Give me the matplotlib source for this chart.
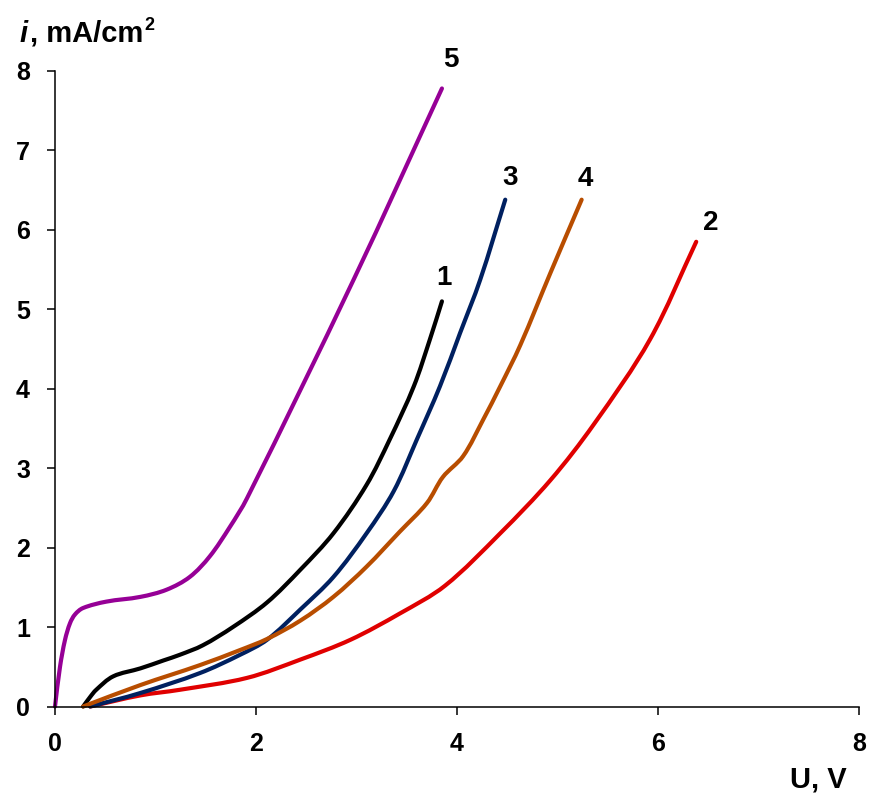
import numpy as np
import matplotlib
matplotlib.use('Agg')
import matplotlib.pyplot as plt
from matplotlib.path import Path
from matplotlib.patches import PathPatch

plt.rcParams['font.family'] = ['Liberation Sans', 'DejaVu Sans']

# curve 1 (black)
u1 = [0.28, 0.35, 0.41, 0.58, 0.85, 1.08, 1.24, 1.47, 1.77, 2.11, 2.44, 2.77, 3.10, 3.33, 3.57, 3.73, 3.85]
i1 = [0.00, 0.12, 0.21, 0.38, 0.48, 0.58, 0.65, 0.77, 1.00, 1.31, 1.72, 2.18, 2.79, 3.36, 4.03, 4.62, 5.10]

# curve 2 (red)
u2 = [0.35, 0.85, 1.24, 1.91, 2.44, 2.94, 3.43, 3.88, 4.43, 4.93, 5.36, 5.92, 6.38]
i2 = [0.00, 0.14, 0.21, 0.36, 0.59, 0.84, 1.17, 1.52, 2.18, 2.85, 3.55, 4.62, 5.85]

# curve 3 (navy)
u3 = [0.35, 0.85, 1.44, 1.84, 2.11, 2.44, 2.77, 3.10, 3.37, 3.60, 3.83, 4.03, 4.23, 4.48]
i3 = [0.00, 0.17, 0.42, 0.65, 0.84, 1.22, 1.63, 2.18, 2.71, 3.36, 4.03, 4.70, 5.37, 6.38]

# curve 4 (brown)
u4 = [0.28, 0.85, 1.44, 1.84, 2.11, 2.44, 2.77, 3.10, 3.43, 3.70, 3.86, 4.06, 4.26, 4.43, 4.63, 4.93, 5.24]
i4 = [0.00, 0.27, 0.52, 0.71, 0.85, 1.08, 1.38, 1.76, 2.20, 2.56, 2.89, 3.15, 3.61, 4.03, 4.55, 5.46, 6.38]

# curve 5 (purple)
u5 = [0.00, 0.05, 0.10, 0.15, 0.20, 0.28, 0.51, 0.85, 1.11, 1.34, 1.54, 1.74, 1.91, 2.97, 3.85]
i5 = [0.00, 0.50, 0.84, 1.05, 1.16, 1.24, 1.32, 1.38, 1.47, 1.63, 1.89, 2.26, 2.62, 5.37, 7.78]

curves = [(u1, i1, '#000000'), (u2, i2, '#E00000'), (u3, i3, '#002060'),
          (u4, i4, '#B84D00'), (u5, i5, '#960096')]

labels = ['1', '2', '3', '4', '5']
label_u = [3.87, 6.52, 4.53, 5.28, 3.94]
label_i = [5.40, 6.09, 6.65, 6.64, 8.14]


def smooth_path(x, y):
    # smoothed line like excel: bezier segments through the points
    p = np.column_stack([x, y])
    n = len(p)
    tang = []
    for k in range(n):
        d = p[min(k + 1, n - 1)] - p[max(k - 1, 0)]
        tang.append(d / np.hypot(*d))
    verts = [p[0]]
    codes = [Path.MOVETO]
    for k in range(n - 1):
        h = np.hypot(*(p[k + 1] - p[k])) / 3
        verts += [p[k] + tang[k] * h, p[k + 1] - tang[k + 1] * h, p[k + 1]]
        codes += [Path.CURVE4] * 3
    return Path(verts, codes)


fig = plt.figure(figsize=(8.7, 7.94), dpi=100)
ax = fig.add_axes([0.0632, 0.1102, 0.9242, 0.8004])

for u, i, c in curves:
    ax.add_patch(PathPatch(smooth_path(u, i), fill=False, edgecolor=c, lw=3,
                           capstyle='round', joinstyle='round', clip_on=False))

for t, x, y in zip(labels, label_u, label_i):
    ax.text(x, y, t, fontsize=20, fontweight='bold', ha='center', va='center')

ax.set_xlim(0, 8)
ax.set_ylim(0, 8)
ax.set_xticks([0, 2, 4, 6, 8])
ax.set_yticks(range(0, 9))
for s in ['top', 'right']:
    ax.spines[s].set_visible(False)
for s in ['left', 'bottom']:
    ax.spines[s].set_linewidth(1.1)
ax.tick_params(direction='out', length=6, width=1.1, labelsize=18, pad=12)
for lab in ax.get_xticklabels() + ax.get_yticklabels():
    lab.set_fontweight('bold')

fig.text(20 / 870, 1 - 42 / 794, 'i', fontsize=21, fontweight='bold', style='italic', va='baseline')
fig.text(30 / 870, 1 - 42 / 794, ', mA/cm', fontsize=21, fontweight='bold', va='baseline')
fig.text(144 / 870, 1 - 30 / 794, '2', fontsize=13, fontweight='bold', va='baseline')
fig.text(847 / 870, 1 - 787 / 794, 'U, V', fontsize=21, fontweight='bold', ha='right', va='baseline')

fig.savefig('out.png', dpi=100)
